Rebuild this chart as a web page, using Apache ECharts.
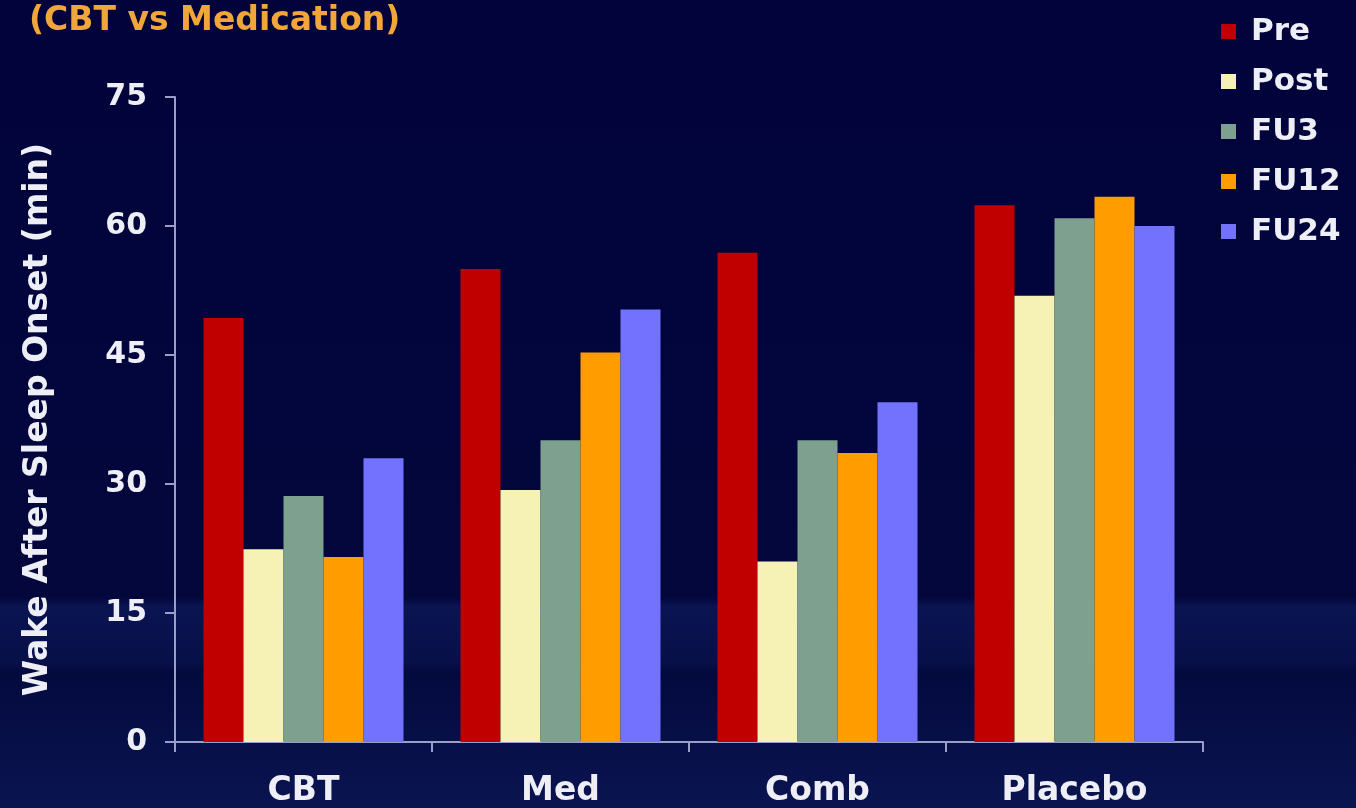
<!DOCTYPE html>
<html><head><meta charset="utf-8">
<script src="https://cdn.jsdelivr.net/npm/echarts@6/dist/echarts.min.js"></script>
<style>html,body{margin:0;padding:0;background:#02053a}#c{width:1356px;height:808px}</style>
</head><body><div id="c"></div>
<script>
const categories = ['CBT', 'Med', 'Comb', 'Placebo'];
const seriesNames = ['Pre', 'Post', 'FU3', 'FU12', 'FU24'];
const pre  = [49.3, 55.0, 56.9, 62.4];
const post = [22.4, 29.3, 21.0, 51.9];
const fu3  = [28.6, 35.1, 35.1, 60.9];
const fu12 = [21.5, 45.3, 33.6, 63.4];
const fu24 = [33.0, 50.3, 39.5, 60.0];
const colors = ['#c00000', '#f6f1b4', '#7ea08e', '#ff9c00', '#7272ff'];
const yTicks = [0, 15, 30, 45, 60, 75];

const values = [pre, post, fu3, fu12, fu24];
const chart = echarts.init(document.getElementById('c'));
chart.setOption({
  backgroundColor: {
    type: 'linear', x: 0, y: 0, x2: 0, y2: 1,
    colorStops: [
      {offset: 0, color: '#01033a'},
      {offset: 0.74, color: '#03073c'},
      {offset: 0.75, color: '#0a1452'},
      {offset: 0.82, color: '#081049'},
      {offset: 0.83, color: '#030a3e'},
      {offset: 1, color: '#0a1450'}
    ]
  },
  title: {
    text: '(CBT vs Medication)', left: 24, top: 0,
    textStyle: {color: '#f0a63a', fontFamily: 'DejaVu Sans', fontWeight: 'bold', fontSize: 33}
  },
  legend: {
    orient: 'vertical', left: 1216, top: 10, itemWidth: 15, itemHeight: 15, itemGap: 17,
    icon: 'rect',
    textStyle: {color: '#eeeef6', fontFamily: 'DejaVu Sans', fontWeight: 'bold', fontSize: 31, lineHeight: 33, padding: [0, 0, 0, 10]},
    data: seriesNames
  },
  grid: {left: 175, right: 153, top: 97, bottom: 66},
  xAxis: {
    type: 'category', data: categories,
    axisLine: {lineStyle: {color: '#9a9ec8', width: 2}},
    axisTick: {show: true, length: 10, lineStyle: {color: '#9a9ec8', width: 2}},
    axisLabel: {color: '#eeeef6', fontFamily: 'DejaVu Sans', fontWeight: 'bold', fontSize: 33, margin: 33}
  },
  yAxis: {
    type: 'value', min: yTicks[0], max: yTicks[yTicks.length - 1], interval: 15,
    name: 'Wake After Sleep Onset (min)', nameLocation: 'middle', nameGap: 120,
    nameTextStyle: {color: '#eeeef6', fontFamily: 'DejaVu Sans', fontWeight: 'bold', fontSize: 33},
    axisLine: {show: true, lineStyle: {color: '#9a9ec8', width: 2}},
    axisTick: {show: true, length: 10, lineStyle: {color: '#9a9ec8', width: 2}},
    splitLine: {show: false},
    axisLabel: {color: '#eeeef6', fontFamily: 'DejaVu Sans', fontWeight: 'bold', fontSize: 30, margin: 28}
  },
  series: seriesNames.map((n, i) => ({
    name: n, type: 'bar', data: values[i], barWidth: 40, barGap: '0%',
    itemStyle: {color: colors[i]}
  }))
});
</script></body></html>
